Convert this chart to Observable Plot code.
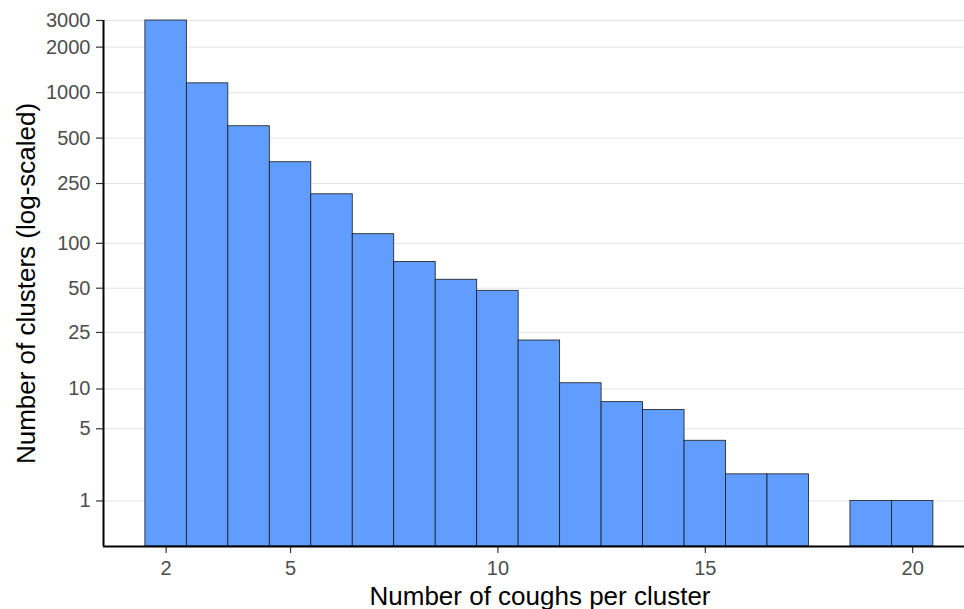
<!DOCTYPE html>
<html>
<head>
<meta charset="utf-8">
<script src="https://cdn.jsdelivr.net/npm/d3@7"></script>
<script src="https://cdn.jsdelivr.net/npm/@observablehq/plot@0.6"></script>
<style>
  body { margin: 0; background: #fff; }
  #chart { position: relative; width: 964px; height: 609px; }
</style>
</head>
<body>
<div id="chart"></div>
<script>
const coughs = [2, 3, 4, 5, 6, 7, 8, 9, 10, 11, 12, 13, 14, 15, 16, 17, 19, 20];
const clusters = [3000, 1152, 599, 346, 212, 115, 75, 57, 48, 22, 11, 8, 7, 4, 2, 2, 1, 1];
const yTicks = [1, 5, 10, 25, 50, 100, 250, 500, 1000, 2000, 3000];
const xTicks = [2, 5, 10, 15, 20];

const data = coughs.map((c, i) => ({ x1: c - 0.5, x2: c + 0.5, n: clusters[i] }));

const plot = Plot.plot({
  width: 964,
  height: 609,
  marginLeft: 103,
  marginTop: 20,
  marginBottom: 63,
  marginRight: 0,
  style: { fontFamily: "Liberation Sans, Arial, sans-serif", background: "#fff", fontSize: "20px" },
  x: { domain: [0.49, 21.25], ticks: xTicks, label: null },
  y: { type: "symlog", constant: 1, domain: [0, 3000], ticks: yTicks, label: null },
  marks: [
    Plot.gridY(yTicks, { stroke: "#e3e3e3", strokeOpacity: 1, strokeWidth: 1 }),
    Plot.rectY(data, { x1: "x1", x2: "x2", y1: 0, y2: "n", fill: "#619CFF", stroke: "#1a1a1a", strokeWidth: 0.8, inset: 0 }),
    Plot.axisY(yTicks, { tickSize: 7, tickPadding: 6, stroke: "#333", strokeWidth: 1.2, fill: "#4d4d4d", fontSize: 20, tickFormat: d => String(d), label: null }),
    Plot.axisX(xTicks, { tickSize: 7, tickPadding: 7, stroke: "#333", strokeWidth: 1.2, fill: "#4d4d4d", fontSize: 20, label: null }),
    Plot.ruleX([0.49], { stroke: "#000", strokeWidth: 2 }),
    Plot.ruleY([0], { stroke: "#000", strokeWidth: 2 }),
    Plot.text(["Number of coughs per cluster"], { frameAnchor: "bottom", dx: 6, dy: 58, fontSize: 26, fill: "#000", lineAnchor: "bottom" }),
    Plot.text(["Number of clusters (log-scaled)"], { frameAnchor: "left", textAnchor: "middle", dx: -77, rotate: -90, fontSize: 26, fill: "#000" })
  ]
});
document.getElementById("chart").appendChild(plot);
</script>
</body>
</html>
